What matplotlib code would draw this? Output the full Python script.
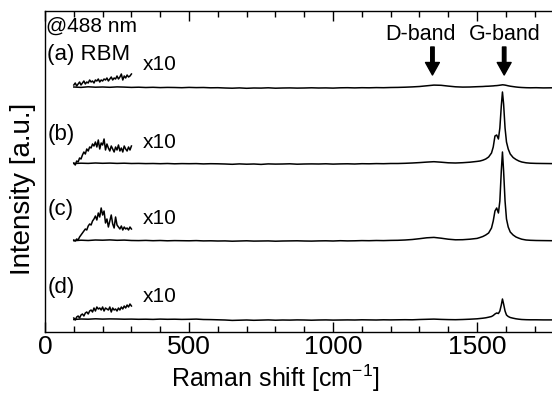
import numpy as np
import matplotlib
matplotlib.use("Agg")
import matplotlib.pyplot as plt
from matplotlib.ticker import MultipleLocator

plt.rcParams['font.family'] = ['Liberation Sans', 'DejaVu Sans']
plt.rcParams['mathtext.default'] = 'regular'

# Raman shift grid (cm-1): broad part + dense G-band part
x_main = list(range(100, 1501, 25))
x_g = [1510, 1520, 1530, 1540, 1550, 1556, 1562, 1568, 1574, 1579, 1584, 1588, 1592,
       1597, 1602, 1608, 1615, 1625, 1635, 1645, 1655, 1670, 1685, 1705, 1730, 1760]
x_rbm = list(range(100, 301, 5))

labels = ['(a)', '(b)', '(c)', '(d)']
offsets = [244, 168, 91, 12]

# intensity above each baseline (a.u.)
main_a = [1.0, 0.6, 1.2, 0.8, 1.0, 0.7, 1.1, 0.9, 0.6,
          0.8, 0.5, 0.7, 0.4, 0.6, 0.5, 0.3, 0.6, 0.4, 0.5, 0.2, 0.3,
          0.0, -0.2, 0.1, -0.3, 0.0, -0.1, 0.2, -0.2, 0.0, 0.1, -0.1, 0.0,
          0.2, 0.0, 0.1, -0.1, 0.2, 0.3, 0.1, 0.3, 0.2, 0.4, 0.3, 0.5,
          0.6, 0.8, 1.1, 1.5, 2.2, 2.9, 2.7, 1.9, 1.2, 0.9, 1.0, 1.3]
main_b = [0.5, 0.8, 0.6, 1.0, 0.7, 0.9, 0.6, 0.8, 0.5,
          0.6, 0.4, 0.5, 0.3, 0.5, 0.2, 0.4, 0.3, 0.4, 0.1, 0.3, 0.2,
          0.0, -0.3, 0.1, -0.2, 0.0, -0.4, 0.1, -0.1, 0.0, 0.2, -0.2, 0.0,
          0.1, 0.0, 0.2, -0.1, 0.1, 0.2, 0.0, 0.3, 0.2, 0.4, 0.3, 0.5,
          0.5, 0.7, 1.0, 1.4, 1.9, 2.3, 1.8, 1.2, 1.0, 1.3, 1.8, 2.6]
main_c = [0.3, 0.8, 0.5, 1.0, 0.8, 1.1, 0.7, 0.9, 0.5,
          0.4, 0.6, 0.3, 0.5, 0.2, 0.4, 0.3, 0.2, 0.4, 0.1, 0.2, 0.0,
          0.1, -0.2, 0.0, 0.2, -0.1, 0.0, 0.1, -0.2, 0.0, 0.1, 0.2, 0.0,
          -0.1, 0.1, 0.2, 0.0, 0.3, 0.1, 0.2, 0.4, 0.3, 0.5, 0.4, 0.6,
          0.7, 1.0, 1.5, 2.3, 3.2, 3.6, 2.8, 1.8, 1.2, 1.3, 1.8, 2.6]
main_d = [0.5, 1.0, 0.8, 1.2, 0.9, 1.1, 1.0, 0.8, 0.9,
          0.7, 0.8, 0.6, 0.9, 0.7, 0.8, 0.6, 0.7, 0.9, 0.5, 0.4, 0.2,
          0.0, -0.4, -0.2, 0.0, -0.3, -0.1, 0.1, -0.2, 0.0, -0.1, 0.1, 0.0,
          -0.2, 0.0, 0.1, -0.1, 0.0, 0.1, 0.0, 0.2, 0.1, 0.0, 0.2, 0.1,
          0.2, 0.3, 0.2, 0.5, 0.7, 0.9, 0.6, 0.4, 0.3, 0.5, 0.8, 1.2]

g_a = [1.4, 1.5, 1.7, 1.8, 2.0, 2.1, 2.3, 2.4, 2.6, 2.8, 3.0, 3.2, 3.1,
       2.9, 2.6, 2.2, 1.8, 1.4, 1.0, 0.7, 0.5, 0.3, 0.2, 0.3, 0.1, 0.2]
g_b = [3.0, 3.8, 5.0, 7.0, 11, 17, 28, 29, 25, 36, 58, 72, 60,
       36, 22, 15, 10, 6.5, 4.5, 3.0, 2.0, 1.2, 0.8, 0.6, 0.5, 0.4]
g_c = [3.5, 4.5, 6, 8, 13, 20, 30, 33, 28, 40, 70, 89, 70,
       40, 22, 14, 9, 6, 4, 2.8, 1.8, 1.0, 0.7, 0.5, 0.4, 0.3]
g_d = [1.5, 1.8, 2.2, 2.8, 3.5, 4.5, 6, 7, 6.5, 9, 15, 21, 16,
       9, 5, 3.5, 2.5, 1.8, 1.2, 0.8, 0.5, 0.3, 0.2, 0.2, 0.1, 0.1]

# RBM region magnified x10
rbm_a = [3, 5, 2, 4, 6, 3, 5, 7, 4, 6, 5, 8, 6, 7, 5, 8, 7, 9, 6, 8, 7, 9, 8, 10, 7,
         9, 11, 8, 10, 9, 12, 9, 11, 14, 8, 12, 10, 13, 11, 12, 14]
rbm_b = [1, -1, 3, 2, 6, 5, 9, 12, 10, 15, 13, 17, 16, 20, 18, 22, 17, 24, 15, 21, 19,
         25, 14, 20, 16, 13, 18, 15, 12, 17, 14, 19, 13, 16, 12, 18, 15, 13, 17, 14, 18]
rbm_c = [1, 0, 2, 1, 4, 6, 8, 10, 12, 11, 15, 17, 16, 20, 22, 25, 21, 28, 24, 33, 26,
         30, 18, 22, 14, 20, 26, 17, 13, 24, 16, 14, 12, 15, 11, 14, 12, 13, 11, 14, 12]
rbm_d = [2, 0, 3, 4, 2, 5, 6, 4, 7, 8, 6, 9, 10, 8, 12, 9, 13, 11, 12, 10, 13, 9, 12,
         11, 10, 13, 8, 12, 10, 11, 9, 12, 10, 13, 11, 14, 12, 15, 13, 16, 14]

mains = [main_a, main_b, main_c, main_d]
gs = [g_a, g_b, g_c, g_d]
rbms = [rbm_a, rbm_b, rbm_c, rbm_d]

fig = plt.figure(figsize=(5.52, 3.94), dpi=100)
ax = fig.add_axes([45 / 552, 62 / 394, 507 / 552, 321 / 394])

x_full = np.array(x_main + x_g)
for lab, off, m, g, r in zip(labels, offsets, mains, gs, rbms):
    y = np.array(m + g) + off
    ax.plot(x_full, y, color='black', lw=1.1)
    ax.plot(x_rbm, np.array(r) + off, color='black', lw=1.1)

ax.set_xlim(0, 1760)
ax.set_ylim(0, 321)
ax.spines['right'].set_visible(False)
for s in ['left', 'top', 'bottom']:
    ax.spines[s].set_linewidth(1.0)
ax.set_yticks([])
ax.xaxis.set_major_locator(MultipleLocator(500))
ax.xaxis.set_minor_locator(MultipleLocator(100))
ax.tick_params(axis='x', which='both', direction='in', top=True, labelsize=19, pad=2)
ax.tick_params(axis='x', which='major', length=7, width=1.0)
ax.tick_params(axis='x', which='minor', length=4, width=1.0)

fig.text(275 / 552, 7 / 394, 'Raman shift [cm$^{-1}$]', fontsize=18,
         ha='center', va='baseline')
fig.text(23 / 552, 0.52, 'Intensity [a.u.]', rotation=90, fontsize=20,
         ha='center', va='center')

# annotations
ax.text(5, 306, '@488 nm', fontsize=15, va='center', ha='left')
ax.text(8, 277, '(a) RBM', fontsize=16, va='center', ha='left')
label_y = [277, 197, 122, 45]
x10_y = [267, 189, 113, 35]
for lab, ly, xy in zip(labels, label_y, x10_y):
    if lab != '(a)':
        ax.text(8, ly, lab, fontsize=16, va='center', ha='left')
    ax.text(340, xy, 'x10', fontsize=15, va='center', ha='left')

ax.text(1302, 297, 'D-band', fontsize=15.5, ha='center', va='center')
ax.text(1597, 297, 'G-band', fontsize=15.5, ha='center', va='center')
for xa in [1345, 1594]:
    ax.annotate('', xy=(xa, 257), xytext=(xa, 285),
                arrowprops=dict(facecolor='black', edgecolor='black',
                                width=2.5, headwidth=10, headlength=9))

fig.savefig('out.png', dpi=100)
